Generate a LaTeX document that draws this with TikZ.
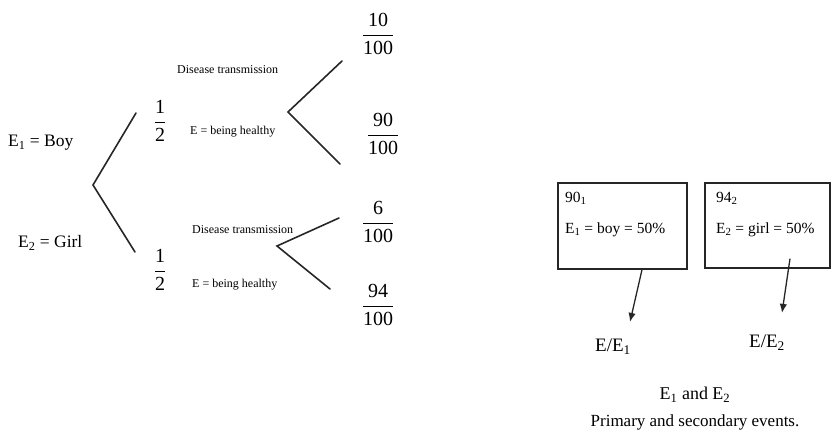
\documentclass[tikz,border=0pt]{standalone}
\usepackage{amsmath}
\usepackage{fontspec}
\setmainfont{Liberation Serif}
\usetikzlibrary{positioning,arrows.meta}
\tikzset{
  branch/.style={line width=1.6pt, black!85, line cap=round},
  pointer/.style={-{Latex[length=3.2mm, width=2.6mm]}, line width=1.3pt, black!85},
  eventlabel/.style={font=\fontsize{17.5}{20}\selectfont, inner sep=0pt, anchor=west},
  smalllabel/.style={font=\fontsize{12}{14}\selectfont, inner sep=0pt, anchor=west},
  problabel/.style={font=\fontsize{20}{24}\selectfont, inner sep=0pt},
  eventbox/.style={draw=black!85, line width=1.4pt, inner sep=0pt},
  boxtext/.style={font=\fontsize{15.5}{18}\selectfont, inner sep=0pt, anchor=west},
  condlabel/.style={font=\fontsize{19}{22}\selectfont, inner sep=0pt},
  notelabel/.style={font=\fontsize{17}{20}\selectfont, inner sep=0pt}
}
\newcommand{\probfrac}[2]{$\dfrac{\text{#1}}{\text{#2}}$}

\begin{document}
\begin{tikzpicture}[x=1pt, y=-1pt, >=Latex]
  \useasboundingbox (0,0) rectangle (831,433);
  \coordinate (root) at (93,185);
  \coordinate (boyend) at (136,113);
  \coordinate (girlend) at (135,252);
  \coordinate (uvert) at (288,112);
  \coordinate (uup) at (342,61);
  \coordinate (udown) at (340,164);
  \coordinate (lvert) at (277,246);
  \coordinate (lup) at (339,218);
  \coordinate (ldown) at (330,289);
  \draw[branch] (boyend) -- (root) -- (girlend);
  \draw[branch] (uup) -- (uvert) -- (udown);
  \draw[branch] (lup) -- (lvert) -- (ldown);

  \node[eventlabel] (boy) at (8,143) {E\textsubscript{1} = Boy};
  \node[eventlabel] (girl) at (18,243) {E\textsubscript{2} = Girl};
  \node[problabel] (halfup) at (160,121) {\probfrac{1}{2}};
  \node[problabel] (halfdown) at (160,270) {\probfrac{1}{2}};
  \node[smalllabel] (disup) at (177,70) {Disease transmission};
  \node[smalllabel] (healthup) at (190,132) {E = being healthy};
  \node[smalllabel] (disdown) at (192,230) {Disease transmission};
  \node[smalllabel] (healthdown) at (192,285) {E = being healthy};
  \node[problabel] (pten) at (378,34) {\probfrac{10}{100}};
  \node[problabel] (pninety) at (383,134) {\probfrac{90}{100}};
  \node[problabel] (psix) at (378,222) {\probfrac{6}{100}};
  \node[problabel] (pninetyfour) at (378,305) {\probfrac{94}{100}};

  \node[eventbox, minimum width=129pt, minimum height=86pt] (boxboy) at (622.5,226) {};
  \node[eventbox, minimum width=125pt, minimum height=85pt] (boxgirl) at (767.5,225.5) {};
  \node[boxtext] (boyhead) at (565,198) {90\textsubscript{1}};
  \node[boxtext] (boyrate) at (565,230) {E\textsubscript{1} = boy = 50\%};
  \node[boxtext] (girlhead) at (716,198) {94\textsubscript{2}};
  \node[boxtext] (girlrate) at (716,230) {E\textsubscript{2} = girl = 50\%};

  \node[condlabel] (condboy) at (613,347) {E/E\textsubscript{1}};
  \node[condlabel] (condgirl) at (767,343) {E/E\textsubscript{2}};
  \coordinate (tipboy) at (630,322);
  \coordinate (tipgirl) at (782,313);
  \draw[pointer] ([xshift=19.5pt]boxboy.south) -- (tipboy);
  \draw[pointer] ([xshift=22.5pt, yshift=10pt]boxgirl.south) -- (tipgirl);

  \node[notelabel, font=\fontsize{18}{20}\selectfont] (events) at (695,395) {E\textsubscript{1} and E\textsubscript{2}};
  \node[notelabel] (eventsnote) at (695,422) {Primary and secondary events.};
\end{tikzpicture}
\end{document}
